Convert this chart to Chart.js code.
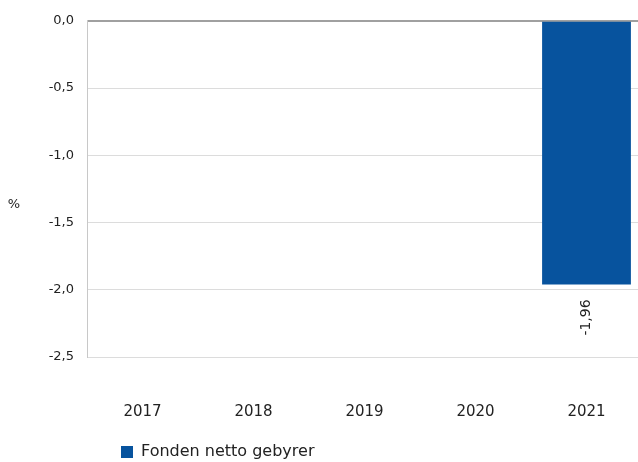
<!DOCTYPE html>
<html>
<head>
<meta charset="utf-8">
<script src="https://cdn.jsdelivr.net/npm/chart.js@4/dist/chart.umd.min.js"></script>
<style>
  html, body { margin: 0; padding: 0; background: #fff; overflow: hidden; }
  #wrap { width: 646px; height: 462px; }
</style>
</head>
<body>
<div id="wrap"><canvas id="chart"></canvas></div>
<script>
const categories = ['2017', '2018', '2019', '2020', '2021']
const netFees = [null, null, null, null, -1.96]
const seriesName = 'Fonden netto gebyrer'
const yTicks = [0, -0.5, -1, -1.5, -2, -2.5]

const fontFamily = '"DejaVu Sans", Verdana, sans-serif'
const textColor = '#222'
const fmt = (v) => v.toFixed(2).replace('.', ',')

// value label under the bar (rotated), the "%" title, and legend placement
const extrasPlugin = {
    id: 'extras',
    beforeDraw(chart) {
        chart.legend.left = 111
        chart.legend.top = 434
    },
    afterDatasetsDraw(chart) {
        const ctx = chart.ctx
        const meta = chart.getDatasetMeta(0)
        ctx.save()
        ctx.fillStyle = textColor
        ctx.font = '14px ' + fontFamily
        meta.data.forEach((bar, i) => {
            const v = netFees[i]
            if (v === null) return
            ctx.save()
            ctx.translate(bar.x, bar.y + 15)
            ctx.rotate(-Math.PI / 2)
            ctx.textAlign = 'right'
            ctx.textBaseline = 'middle'
            ctx.fillText(fmt(v), 0, 0)
            ctx.restore()
        })
        ctx.font = '13px ' + fontFamily
        ctx.textAlign = 'center'
        ctx.textBaseline = 'middle'
        ctx.fillText('%', 14, 205)
        ctx.restore()
    }
}

new Chart(document.getElementById('chart'), {
    type: 'bar',
    data: {
        labels: categories,
        datasets: [{
            label: seriesName,
            data: netFees,
            backgroundColor: '#07539e',
            barPercentage: 0.8,
            categoryPercentage: 1.0
        }]
    },
    options: {
        responsive: true,
        maintainAspectRatio: false,
        animation: false,
        layout: {padding: {top: 18, right: 4, left: 0, bottom: 0}},
        plugins: {
            legend: {
                position: 'bottom',
                align: 'start',
                labels: {
                    boxWidth: 12,
                    boxHeight: 12,
                    color: textColor,
                    font: {size: 16, family: fontFamily},
                    padding: 10
                }
            },
            tooltip: {enabled: false}
        },
        scales: {
            x: {
                grid: {display: false},
                border: {display: false},
                afterFit: (axis) => { axis.height = 69 },
                ticks: {
                    color: textColor,
                    padding: 38,
                    font: {size: 15, family: fontFamily}
                }
            },
            y: {
                min: -2.5,
                max: 0,
                afterBuildTicks: (axis) => {
                    axis.ticks = yTicks.map(v => ({value: v}))
                },
                afterFit: (axis) => { axis.width = 87 },
                grid: {
                    color: (c) => c.tick && c.tick.value === 0 ? '#a0a0a0' : '#dcdcdc',
                    lineWidth: (c) => c.tick && c.tick.value === 0 ? 2 : 1,
                    drawTicks: false
                },
                border: {color: '#c8c8c8'},
                ticks: {
                    color: textColor,
                    padding: 13,
                    font: {size: 13, family: fontFamily},
                    callback: (v) => v.toFixed(1).replace('.', ',')
                }
            }
        }
    },
    plugins: [extrasPlugin]
})
</script>
</body>
</html>
